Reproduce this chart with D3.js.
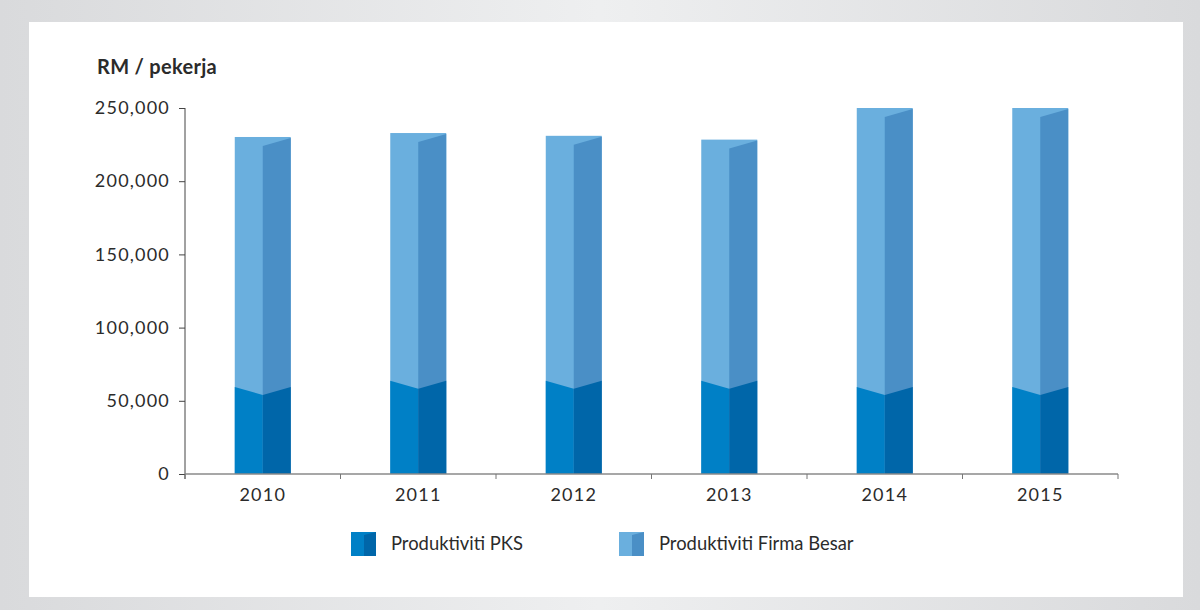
<!DOCTYPE html>
<html>
<head>
<meta charset="utf-8">
<script src="https://cdn.jsdelivr.net/npm/d3@7"></script>
<style>
  body { margin: 0; background: #dedfe1; }
  #chart { width: 1200px; height: 610px; }
  text { font-family: Lato, "Open Sans", sans-serif; fill: #2b2b2b; }
</style>
</head>
<body>
<div id="chart"></div>
<script>
const years = ['2010', '2011', '2012', '2013', '2014', '2015']
const pks = [59500, 63700, 63700, 63700, 59500, 59500]
const firmaBesar = [230200, 232900, 231000, 228400, 250000, 250000]
const yTicks = [0, 50000, 100000, 150000, 200000, 250000]
const seriesNames = ['Produktiviti PKS', 'Produktiviti Firma Besar']

const dimensions = ({
  width: 1200,
  height: 610,
  margin: { top: 108, right: 82, bottom: 136, left: 185 }
})
const innerW = dimensions.width - dimensions.margin.left - dimensions.margin.right
const innerH = dimensions.height - dimensions.margin.top - dimensions.margin.bottom

// colours: [light face, dark face]
const colPks = ['#0080c6', '#0066a9']
const colFirma = ['#6aafde', '#4a8fc6']

const svg = d3.select('#chart').append('svg')
  .attr('width', dimensions.width)
  .attr('height', dimensions.height)

// grey frame + white panel
const grad = svg.append('defs').append('linearGradient')
  .attr('id', 'frame').attr('x1', '0%').attr('x2', '100%')
grad.append('stop').attr('offset', '0%').attr('stop-color', '#d9dadc')
grad.append('stop').attr('offset', '50%').attr('stop-color', '#eeeff0')
grad.append('stop').attr('offset', '100%').attr('stop-color', '#d9dadc')
svg.append('rect').attr('width', 1200).attr('height', 610).attr('fill', 'url(#frame)')
svg.append('rect').attr('x', 29).attr('y', 22).attr('width', 1154).attr('height', 575).attr('fill', '#fff')

const g = svg.append('g')
  .attr('transform', `translate(${dimensions.margin.left},${dimensions.margin.top})`)

const x = d3.scaleBand().domain(years).range([0, innerW]).padding(0)
const y = d3.scaleLinear().domain([0, 250000]).range([innerH, 0])
const barW = x.bandwidth() * 0.36
const dip = 8

const data = years.map((yr, i) => ({ year: yr, pks: pks[i], firma: firmaBesar[i] }))

const bars = g.selectAll('.bar').data(data).enter().append('g')
  .attr('class', 'bar')
  .attr('transform', d => `translate(${x(d.year) + (x.bandwidth() - barW) / 2},0)`)

// firma besar (total height)
bars.append('rect')
  .attr('x', 0).attr('y', d => y(d.firma))
  .attr('width', barW).attr('height', d => innerH - y(d.firma))
  .attr('fill', colFirma[0])
bars.append('path')
  .attr('fill', colFirma[1])
  .attr('d', d => {
    const t = y(d.firma) + 1
    return `M${barW / 2},${t + dip}L${barW},${t}L${barW},${innerH}L${barW / 2},${innerH}Z`
  })

// PKS with V-shaped top
bars.append('path')
  .attr('fill', colPks[0])
  .attr('d', d => {
    const t = y(d.pks)
    return `M0,${t}L${barW / 2},${t + dip}L${barW / 2},${innerH}L0,${innerH}Z`
  })
bars.append('path')
  .attr('fill', colPks[1])
  .attr('d', d => {
    const t = y(d.pks)
    return `M${barW / 2},${t + dip}L${barW},${t}L${barW},${innerH}L${barW / 2},${innerH}Z`
  })

// axes
const yAxis = g.append('g')
  .call(d3.axisLeft(y).tickValues(yTicks).tickSize(6).tickSizeOuter(0).tickFormat(d3.format(',')))
yAxis.select('.domain').attr('stroke', '#444').attr('d', `M0,0V${innerH + 5}`)
yAxis.selectAll('.tick line').attr('stroke', '#444')
yAxis.selectAll('.tick text').attr('x', -15)
  .style('font-size', '18px').style('letter-spacing', '1.2px').attr('fill', '#2b2b2b')

const xAxis = g.append('g').attr('transform', `translate(0,${innerH})`)
xAxis.append('line').attr('x1', 0).attr('x2', innerW).attr('stroke', '#8a8a8a').attr('stroke-width', 1.5)
xAxis.selectAll('.bt').data(years.concat(['end'])).enter().append('line')
  .attr('x1', (d, i) => i * x.step()).attr('x2', (d, i) => i * x.step())
  .attr('y1', 0).attr('y2', 5).attr('stroke', '#777')
xAxis.selectAll('.lbl').data(years).enter().append('text')
  .attr('x', d => x(d) + x.bandwidth() / 2)
  .attr('y', 27)
  .attr('text-anchor', 'middle')
  .style('font-size', '18px').style('letter-spacing', '1.2px')
  .text(d => d)

// unit title
svg.append('text')
  .attr('x', 97).attr('y', 74)
  .style('font-size', '20px').style('font-weight', 'bold').style('letter-spacing', '0.3px')
  .text('RM / pekerja')

// legend
const legend = svg.append('g').attr('transform', 'translate(351,532)')
const legendItems = [
  { name: seriesNames[0], col: colPks, dx: 0 },
  { name: seriesNames[1], col: colFirma, dx: 268 }
]
const li = legend.selectAll('g').data(legendItems).enter().append('g')
  .attr('transform', d => `translate(${d.dx},0)`)
li.append('rect').attr('width', 25).attr('height', 24).attr('fill', d => d.col[0])
li.append('path').attr('fill', d => d.col[1])
  .attr('d', 'M13,3L25,0L25,24L13,24Z')
li.append('text')
  .attr('x', 40).attr('y', 18)
  .style('font-size', '18.4px')
  .text(d => d.name)
</script>
</body>
</html>
